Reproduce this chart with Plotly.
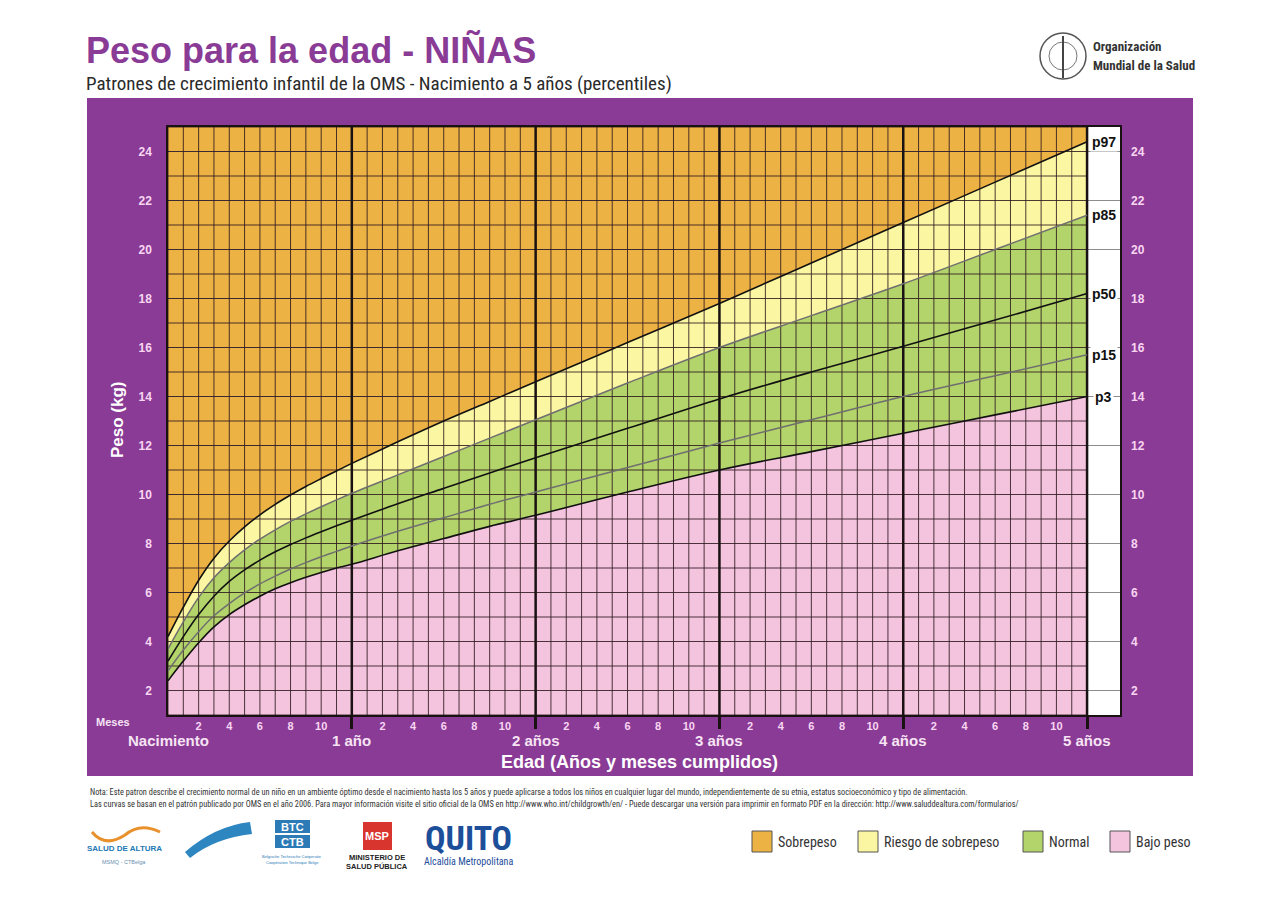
import plotly.graph_objects as go

# ---------------- data ----------------
MONTHS = [0, 1, 2, 3, 4, 5, 6, 7, 8, 9, 10, 11, 12, 15, 18, 21, 24, 30, 36, 42, 48, 54, 60]
P97 = [4.2, 5.4, 6.5, 7.4, 8.1, 8.68, 9.17, 9.6, 9.98, 10.33, 10.65, 10.96, 11.27, 12.15, 13.0, 13.8, 14.6, 16.2, 17.8, 19.45, 21.1, 22.75, 24.4]
P85 = [3.7, 4.8, 5.8, 6.6, 7.22, 7.74, 8.18, 8.56, 8.9, 9.21, 9.5, 9.78, 10.05, 10.8, 11.55, 12.3, 13.05, 14.55, 16.0, 17.3, 18.6, 20.0, 21.4]
P50 = [3.2, 4.2, 5.1, 5.85, 6.45, 6.92, 7.32, 7.66, 7.96, 8.23, 8.48, 8.72, 8.95, 9.62, 10.25, 10.88, 11.5, 12.7, 13.9, 15.0, 16.05, 17.12, 18.2]
P15 = [2.8, 3.65, 4.4, 5.05, 5.55, 5.98, 6.35, 6.67, 6.96, 7.22, 7.46, 7.68, 7.9, 8.5, 9.05, 9.6, 10.1, 11.1, 12.1, 13.05, 14.0, 14.85, 15.7]
P3 = [2.4, 3.2, 3.95, 4.6, 5.1, 5.5, 5.85, 6.15, 6.4, 6.62, 6.82, 7.0, 7.15, 7.7, 8.2, 8.7, 9.15, 10.1, 11.0, 11.75, 12.5, 13.25, 14.0]

PERCENTILE_NAMES = ["p97", "p85", "p50", "p15", "p3"]
Y_TICKS = [2, 4, 6, 8, 10, 12, 14, 16, 18, 20, 22, 24]
YEAR_MARKS = [12, 24, 36, 48, 60]
YEAR_LABEL_POS = [0, 12, 24, 36, 48, 60]
YEAR_LABELS = ["Nacimiento", "1 año", "2 años", "3 años", "4 años", "5 años"]
MONTH_IN_YEAR = [2, 4, 6, 8, 10]
LEGEND_LABELS = ["Sobrepeso", "Riesgo de sobrepeso", "Normal", "Bajo peso"]

# ---------------- style ----------------
W, H = 1280, 905
ML, MR, MT, MB = 168, 160, 127, 190
PW, PH = W - ML - MR, H - MT - MB
AGE_MAX = 60
X_MAX = 62.15
Y_MIN, Y_MAX = 1, 25

PURPLE = "#8A3B95"
ORANGE = "#EDB244"
YELLOW = "#FBF6A2"
GREEN = "#B3D36B"
PINK = "#F4C3DE"
GRIDC = "rgba(45,25,30,0.85)"
TICKPINK = "#F8D6F2"
FONT = "Liberation Sans"
NARROW = "Liberation Sans Narrow, Roboto Condensed, Liberation Sans"
SPL = dict(shape="spline", smoothing=1.0)


def px(x):
    return (x - ML) / PW


def py(y):
    return (H - MB - y) / PH


fig = go.Figure()

# fills
fig.add_trace(go.Scatter(x=MONTHS, y=P3, mode="lines", line=dict(width=0, **SPL),
                         fill="tozeroy", fillcolor=PINK, hoverinfo="skip", showlegend=False))
fig.add_trace(go.Scatter(x=MONTHS, y=P85, mode="lines", line=dict(width=0, **SPL),
                         fill="tonexty", fillcolor=GREEN, hoverinfo="skip", showlegend=False))
fig.add_trace(go.Scatter(x=MONTHS, y=P97, mode="lines", line=dict(width=0, **SPL),
                         fill="tonexty", fillcolor=YELLOW, hoverinfo="skip", showlegend=False))

# grid over fills
gx, gy = [], []
for m in range(0, AGE_MAX + 1):
    gx += [m, m, None]
    gy += [Y_MIN, Y_MAX, None]
for k in range(Y_MIN, Y_MAX + 1):
    gx += [0, AGE_MAX, None]
    gy += [k, k, None]
fig.add_trace(go.Scatter(x=gx, y=gy, mode="lines", line=dict(color=GRIDC, width=1),
                         hoverinfo="skip", showlegend=False))
yx, yy = [], []
for m in YEAR_MARKS:
    yx += [m, m, None]
    yy += [Y_MIN, Y_MAX, None]
fig.add_trace(go.Scatter(x=yx, y=yy, mode="lines", line=dict(color="#1a1212", width=2.5),
                         hoverinfo="skip", showlegend=False))

# percentile curves (on the overlaid right-hand axis, which shares the range)
for name, vals, col, w in [("p97", P97, "#111111", 1.6), ("p85", P85, "#6f6f6f", 1.5),
                           ("p50", P50, "#111111", 1.6), ("p15", P15, "#6f6f6f", 1.5),
                           ("p3", P3, "#111111", 1.6)]:
    fig.add_trace(go.Scatter(x=MONTHS, y=vals, mode="lines", name=name, yaxis="y2",
                             line=dict(color=col, width=w, **SPL), showlegend=False))

shapes = []
# purple panel (behind plot area)
shapes.append(dict(type="rect", xref="paper", yref="paper", x0=px(87), x1=px(1193), y0=py(776), y1=py(98),
                   fillcolor=PURPLE, line=dict(width=0), layer="below"))
# white strip to the right of the chart (below the grid lines)
shapes.append(dict(type="rect", xref="x", yref="paper", x0=AGE_MAX, x1=X_MAX, y0=0, y1=1,
                   fillcolor="white", line=dict(width=0), layer="below"))
# orange background of chart zone
shapes.append(dict(type="rect", xref="x", yref="paper", x0=0, x1=AGE_MAX, y0=0, y1=1,
                   fillcolor=ORANGE, line=dict(width=0), layer="between"))
# legend boxes
LEG_BOX_X = [752, 858, 1023, 1110]
LEG_COLS = [ORANGE, YELLOW, GREEN, PINK]
for bx, c in zip(LEG_BOX_X, LEG_COLS):
    shapes.append(dict(type="rect", xref="paper", yref="paper", x0=px(bx), x1=px(bx + 20),
                       y0=py(852), y1=py(831), fillcolor=c, line=dict(color="#555555", width=1)))
# WHO emblem (simplified)
shapes.append(dict(type="circle", xref="paper", yref="paper", x0=px(1040), x1=px(1086), y0=py(79), y1=py(33),
                   line=dict(color="#555555", width=1.5)))
shapes.append(dict(type="circle", xref="paper", yref="paper", x0=px(1049), x1=px(1077), y0=py(70), y1=py(42),
                   line=dict(color="#777777", width=1)))
shapes.append(dict(type="line", xref="paper", yref="paper", x0=px(1063), x1=px(1063), y0=py(78), y1=py(36),
                   line=dict(color="#444444", width=2)))
# bottom logos (simplified)
shapes.append(dict(type="path", xref="paper", yref="paper",
                   path=f"M {px(185)} {py(852)} Q {px(215)} {py(826)} {px(250)} {py(822)} L {px(252)} {py(834)} Q {px(215)} {py(838)} {px(190)} {py(858)} Z",
                   fillcolor="#2E86C1", line=dict(width=0)))
shapes.append(dict(type="rect", xref="paper", yref="paper", x0=px(275), x1=px(310), y0=py(833), y1=py(820),
                   fillcolor="#2C7BB6", line=dict(width=0)))
shapes.append(dict(type="rect", xref="paper", yref="paper", x0=px(275), x1=px(310), y0=py(848), y1=py(835),
                   fillcolor="#2C7BB6", line=dict(width=0)))
shapes.append(dict(type="rect", xref="paper", yref="paper", x0=px(363), x1=px(392), y0=py(850), y1=py(822),
                   fillcolor="#D9352F", line=dict(width=0)))
shapes.append(dict(type="path", xref="paper", yref="paper",
                   path=f"M {px(92)} {py(832)} Q {px(105)} {py(848)} {px(125)} {py(835)} Q {px(140)} {py(822)} {px(160)} {py(832)}",
                   line=dict(color="#E8912D", width=3)))

ann = []


def A(text, x, y, size, color, bold=False, family=FONT, xanchor="center", yanchor="middle", **kw):
    ann.append(dict(text=text, x=px(x), y=py(y), xref="paper", yref="paper", showarrow=False,
                    xanchor=xanchor, yanchor=yanchor,
                    font=dict(size=size, color=color, family=family, weight="bold" if bold else "normal"), **kw))


A("Peso para la edad - NIÑAS", 84, 50, 36, PURPLE, bold=True, xanchor="left")
A("Patrones de crecimiento infantil de la OMS - Nacimiento a 5 años (percentiles)", 84, 84, 19, "#2a2a2a",
  family=NARROW, xanchor="left")
A("Organización", 1091, 46, 13, "#333333", bold=True, family=NARROW, xanchor="left")
A("Mundial de la Salud", 1091, 65, 13, "#333333", bold=True, family=NARROW, xanchor="left")

A("Peso (kg)", 117, 420, 17, "white", bold=True, textangle=-90)
A("Meses", 113, 722, 11, "#F6E4F4", bold=True)
for pos, lab in zip(YEAR_LABEL_POS, YEAR_LABELS):
    ann.append(dict(text=lab, x=pos, y=py(740), xref="x", yref="paper", showarrow=False,
                    xanchor="center", yanchor="middle",
                    font=dict(size=15, color="#F6E4F4", family=FONT, weight="bold")))
A("Edad (Años y meses cumplidos)", 639, 762, 18, "white", bold=True)

# percentile labels in the white strip
for name, vals in zip(PERCENTILE_NAMES, [P97, P85, P50, P15, P3]):
    ann.append(dict(text=name, x=61.1, y=vals[-1], xref="x", yref="y", showarrow=False,
                    xanchor="center", yanchor="middle", bgcolor="white",
                    font=dict(size=14, color="#111111", family=FONT, weight="bold")))

# notes
A("Nota: Este patron describe el crecimiento normal de un niño en un ambiente óptimo desde el nacimiento hasta los 5 años y puede aplicarse a todos los niños en cualquier lugar del mundo, independientemente de su etnia, estatus socioeconómico y tipo de alimentación.",
  88, 792, 8.3, "#333333", family=NARROW, xanchor="left")
A("Las curvas se basan en el patrón publicado por OMS en el año 2006. Para mayor información visite el sitio oficial de la OMS en http://www.who.int/childgrowth/en/ - Puede descargar una versión para imprimir en formato PDF en la dirección: http://www.saluddealtura.com/formularios/",
  88, 804, 8.3, "#333333", family=NARROW, xanchor="left")

# legend texts
for bx, lab in zip(LEG_BOX_X, LEGEND_LABELS):
    A(lab, bx + 24, 842, 14, "#333333", family=NARROW, xanchor="left")

# logos text
A("SALUD DE ALTURA", 124, 848, 8, "#2478B5", bold=True)
A("MSMQ - CTBelga", 124, 862, 5.5, "#6a8fb0")
A("BTC", 292.5, 827, 11, "white", bold=True)
A("CTB", 292.5, 842, 11, "white", bold=True)
A("Belgische Technische Coöperatie", 292, 856, 4, "#2C7BB6")
A("Coopération Technique Belge", 292, 862, 4, "#2C7BB6")
A("MSP", 377, 836, 11, "white", bold=True)
A("MINISTERIO DE", 377, 857, 7.5, "#222222", bold=True)
A("SALUD PÚBLICA", 377, 866, 7.5, "#222222", bold=True)
A("QUITO", 468, 838, 34, "#1D4E9A", bold=True, family=NARROW)
A("Alcaldía Metropolitana", 468, 861, 10, "#1D4E9A", family=NARROW)

month_vals = [yr * 12 + m for yr in range(5) for m in MONTH_IN_YEAR]
month_text = [str(m) for yr in range(5) for m in MONTH_IN_YEAR]

fig.update_layout(
    width=W, height=H, autosize=False,
    margin=dict(l=ML, r=MR, t=MT, b=MB, pad=0),
    paper_bgcolor="white", plot_bgcolor="white",
    showlegend=False,
    shapes=shapes, annotations=ann,
    xaxis=dict(range=[0, X_MAX], showgrid=False, zeroline=False, showline=True, mirror=True,
               linecolor="#1a1212", linewidth=1.5,
               tickmode="array", tickvals=month_vals, ticktext=month_text, ticks="",
               ticklabelstandoff=0,
               tickfont=dict(size=11, color=TICKPINK, family=FONT, weight="bold"),
               minor=dict(tickmode="array", tickvals=YEAR_MARKS, ticks="outside", ticklen=12,
                          tickwidth=2.5, tickcolor="#1a1212", showgrid=False),
               fixedrange=True),
    yaxis=dict(range=[Y_MIN, Y_MAX], showgrid=True, gridcolor="#8c8c8c", gridwidth=1,
               zeroline=False, showline=True, mirror=True, linecolor="#1a1212", linewidth=1.5,
               tickmode="array", tickvals=Y_TICKS, ticks="", ticklabelstandoff=12,
               tickfont=dict(size=12, color=TICKPINK, family=FONT, weight="bold"), fixedrange=True),
    yaxis2=dict(range=[Y_MIN, Y_MAX], overlaying="y", side="right", showgrid=False, zeroline=False,
                tickmode="array", tickvals=Y_TICKS, ticks="", ticklabelstandoff=10,
                tickfont=dict(size=12, color=TICKPINK, family=FONT, weight="bold"), fixedrange=True),
)

fig.write_html("out.html")
